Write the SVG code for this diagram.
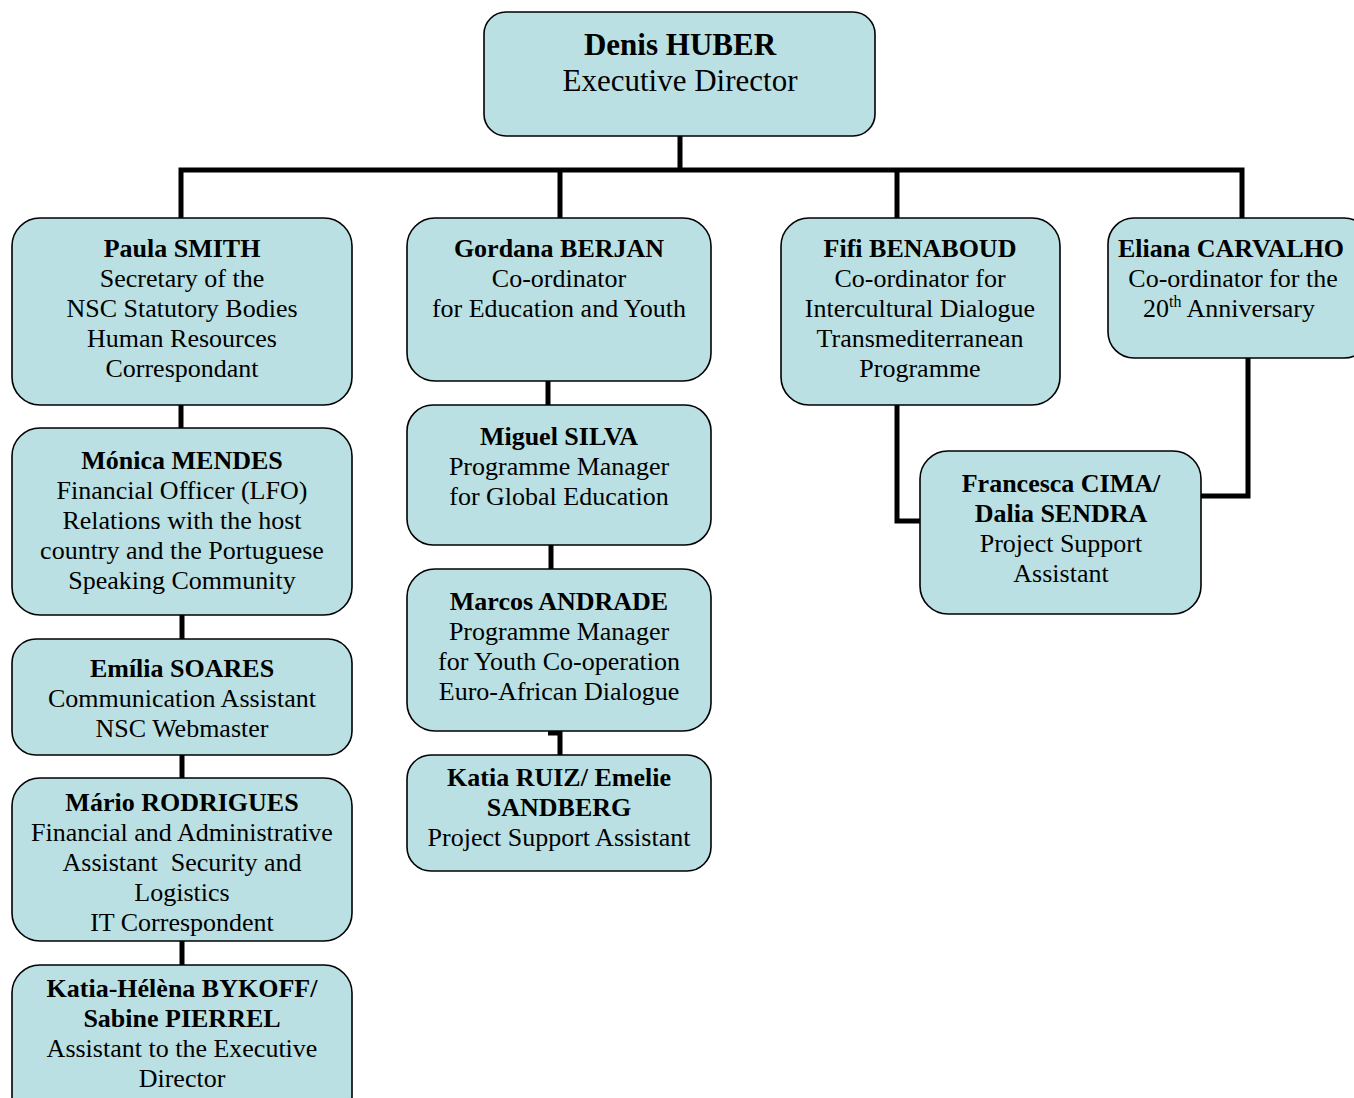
<svg xmlns="http://www.w3.org/2000/svg" width="1354" height="1098" viewBox="0 0 1354 1098">
<style>
.box{fill:#bae0e3;stroke:#000;stroke-width:1.6}
text{font-family:"Liberation Serif","Times New Roman",serif;font-size:26px;text-anchor:middle;fill:#000}
.b{font-weight:bold}
.big{font-size:31px}
.con{fill:none;stroke:#000;stroke-width:5}
</style>
<g id="connectors">
<polyline class="con" points="680,136 680,170"/>
<polyline class="con" points="181,218 181,170 1242,170 1242,218"/>
<polyline class="con" points="560,170 560,218"/>
<polyline class="con" points="897,170 897,218"/>
<polyline class="con" points="181,405 181,428"/>
<polyline class="con" points="182,615 182,639"/>
<polyline class="con" points="182,755 182,778"/>
<polyline class="con" points="182,941 182,965"/>
<polyline class="con" points="548,381 548,405"/>
<polyline class="con" points="551,545 551,569"/>
<polyline class="con" points="548,733 560,733 560,755"/>
<polyline class="con" points="897,405 897,521 920,521"/>
<polyline class="con" points="1248,358 1248,496 1201,496"/>
</g>
<g id="n-huber">
<rect class="box" x="484" y="12" width="391" height="124" rx="22"/>
<text class="big b" x="680" y="55">Denis HUBER</text>
<text class="big" x="680" y="91">Executive Director</text>
</g>
<g id="n-smith">
<rect class="box" x="12" y="218" width="340" height="187" rx="28"/>
<text class="b" x="182" y="257">Paula SMITH</text>
<text x="182" y="287">Secretary of the</text>
<text x="182" y="317">NSC Statutory Bodies</text>
<text x="182" y="347">Human Resources</text>
<text x="182" y="377">Correspondant</text>
</g>
<g id="n-berjan">
<rect class="box" x="407" y="218" width="304" height="163" rx="28"/>
<text class="b" x="559" y="257">Gordana BERJAN</text>
<text x="559" y="287">Co-ordinator</text>
<text x="559" y="317">for Education and Youth</text>
</g>
<g id="n-benaboud">
<rect class="box" x="781" y="218" width="279" height="187" rx="28"/>
<text class="b" x="920" y="257">Fifi BENABOUD</text>
<text x="920" y="287">Co-ordinator for</text>
<text x="920" y="317">Intercultural Dialogue</text>
<text x="920" y="347">Transmediterranean</text>
<text x="920" y="377">Programme</text>
</g>
<g id="n-carvalho">
<rect class="box" x="1108" y="218" width="262" height="140" rx="26"/>
<text class="b" x="1231" y="257">Eliana CARVALHO</text>
<text x="1233" y="287">Co-ordinator for the</text>
<text x="1229" y="317">20<tspan font-size="16" dy="-10">th</tspan><tspan dy="10"> Anniversary</tspan></text>
</g>
<g id="n-mendes">
<rect class="box" x="12" y="428" width="340" height="187" rx="28"/>
<text class="b" x="182" y="469">Mónica MENDES</text>
<text x="182" y="499">Financial Officer (LFO)</text>
<text x="182" y="529">Relations with the host</text>
<text x="182" y="559">country and the Portuguese</text>
<text x="182" y="589">Speaking Community</text>
</g>
<g id="n-soares">
<rect class="box" x="12" y="639" width="340" height="116" rx="24"/>
<text class="b" x="182" y="677">Emília SOARES</text>
<text x="182" y="707">Communication Assistant</text>
<text x="182" y="737">NSC Webmaster</text>
</g>
<g id="n-rodrigues">
<rect class="box" x="12" y="778" width="340" height="163" rx="28"/>
<text class="b" x="182" y="811">Mário RODRIGUES</text>
<text x="182" y="841">Financial and Administrative</text>
<text x="182" y="871" style="white-space:pre">Assistant  Security and</text>
<text x="182" y="901">Logistics</text>
<text x="182" y="931">IT Correspondent</text>
</g>
<g id="n-bykoff">
<rect class="box" x="12" y="965" width="340" height="160" rx="28"/>
<text class="b" x="182" y="997">Katia-Hélèna BYKOFF/</text>
<text class="b" x="182" y="1027">Sabine PIERREL</text>
<text x="182" y="1057">Assistant to the Executive</text>
<text x="182" y="1087">Director</text>
</g>
<g id="n-silva">
<rect class="box" x="407" y="405" width="304" height="140" rx="26"/>
<text class="b" x="559" y="445">Miguel SILVA</text>
<text x="559" y="475">Programme Manager</text>
<text x="559" y="505">for Global Education</text>
</g>
<g id="n-andrade">
<rect class="box" x="407" y="569" width="304" height="162" rx="28"/>
<text class="b" x="559" y="610">Marcos ANDRADE</text>
<text x="559" y="640">Programme Manager</text>
<text x="559" y="670">for Youth Co-operation</text>
<text x="559" y="700">Euro-African Dialogue</text>
</g>
<g id="n-ruiz">
<rect class="box" x="407" y="755" width="304" height="116" rx="24"/>
<text class="b" x="559" y="786">Katia RUIZ/ Emelie</text>
<text class="b" x="559" y="816">SANDBERG</text>
<text x="559" y="846">Project Support Assistant</text>
</g>
<g id="n-cima">
<rect class="box" x="920" y="451" width="281" height="163" rx="28"/>
<text class="b" x="1061" y="492">Francesca CIMA/</text>
<text class="b" x="1061" y="522">Dalia SENDRA</text>
<text x="1061" y="552">Project Support</text>
<text x="1061" y="582">Assistant</text>
</g>
</svg>
